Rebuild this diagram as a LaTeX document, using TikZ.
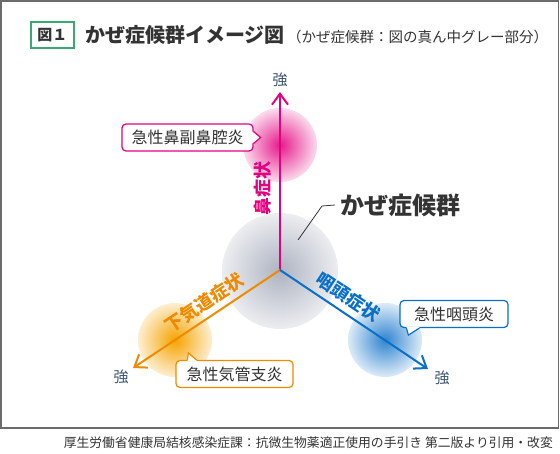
\documentclass[tikz,border=0pt]{standalone}
\usepackage{fontspec}
\setmainfont{Noto Sans CJK JP}
\usetikzlibrary{arrows.meta}
\definecolor{vframe}{HTML}{6b6b6b}
\definecolor{vgreen}{HTML}{3aa870}
\definecolor{vtext}{HTML}{333333}
\definecolor{vslate}{HTML}{3d5670}
\definecolor{vpink}{HTML}{e4007f}
\definecolor{vorange}{HTML}{f08a00}
\definecolor{vamber}{HTML}{f5a300}
\definecolor{vblue}{HTML}{0a6fc8}
\definecolor{vgray}{HTML}{a9afbe}

\begin{document}
\begin{tikzpicture}[x=1pt, y=-1pt,
		axis/.style={line width=2pt, -{Straight Barb[length=11pt, width=16pt]}},
		callout/.style={draw, line width=1.2pt, fill=white, rounded corners=4pt, text=vtext, font=\fontsize{16}{16}\selectfont, minimum height=27pt, inner sep=0pt},
		strong/.style={text=vslate, font=\fontsize{15}{15}\selectfont, inner sep=0pt},
		symptom/.style={font=\fontsize{18}{18}\selectfont\bfseries, inner sep=0pt}]
		\useasboundingbox (0,0) rectangle (560,454);
		\draw[color=vframe, line width=1.5pt] (1,1) rectangle (558.5,428);
		% title
		\node[draw=vgreen, line width=1.2pt, fill=white, minimum width=43pt, minimum height=26pt, inner sep=0pt, text=vtext, font=\fontsize{15}{15}\selectfont\bfseries] (figno) at (52.5,35) {図１};
		\node[anchor=west, text=vtext, font=\fontsize{20}{20}\selectfont\bfseries, inner sep=0pt] (title) at (85,35) {かぜ症候群イメージ図};
		\node[anchor=west, text=vtext, font=\fontsize{14.5}{14.5}\selectfont, inner sep=0pt] (subtitle) at (287,36.5) {（かぜ症候群：図の真ん中グレー部分）};
		% blobs
		\shade[inner color=vgray!95, outer color=vgray!22] (280,271) circle (58);
		\shade[inner color=vpink!90, outer color=vpink!14] (280,145) circle (37);
		\shade[inner color=vamber, outer color=vamber!18] (175,340) circle (37);
		\shade[inner color=vblue!85, outer color=vblue!14] (385,340) circle (37);
		% axes
		\coordinate (O) at (280,270);
		\coordinate (noseend) at (280,92);
		\coordinate (lowerend) at (133,368);
		\coordinate (throatend) at (428,369);
		\draw[axis, color=vpink] (O) -- (noseend);
		\draw[axis, color=vorange] (O) -- (lowerend);
		\draw[axis, color=vblue] (O) -- (throatend);
		\node[strong] (nosestrong) at (280,80) {強};
		\node[strong] (lowerstrong) at (121,377) {強};
		\node[strong] (throatstrong) at (442,378) {強};
		\node[symptom, text=vpink, rotate=90] (noselabel) at (263,189) {鼻症状};
		\node[symptom, text=vorange, rotate=33.7] (lowerlabel) at (204,303) {下気道症状};
		\node[symptom, text=vblue, rotate=-33.7] (throatlabel) at (348,297) {咽頭症状};
		% callouts
		\node[callout, draw=vpink, minimum width=131pt] (sinusitis) at (187.5,137.5) {急性鼻副鼻腔炎};
		\fill[white] ([shift={(-1.5,-6)}]sinusitis.east) -- ++(8.5,6) -- ++(-8.5,6) -- cycle;
		\draw[color=vpink, line width=1.2pt] ([shift={(0,-6)}]sinusitis.east) -- ++(7,6) -- ++(-7,6);
		\node[callout, draw=vorange, minimum width=117pt] (bronchitis) at (234.5,374) {急性気管支炎};
		\fill[white] ([shift={(12,1.5)}]bronchitis.north west) -- ++(1,-8.5) -- ++(9,8.5) -- cycle;
		\draw[color=vorange, line width=1.2pt] ([shift={(12,0)}]bronchitis.north west) -- ++(1,-7) -- ++(8,7);
		\node[callout, draw=vblue, minimum width=108pt] (pharyngitis) at (454,314) {急性咽頭炎};
		\fill[white] ([shift={(7,-1.5)}]pharyngitis.south west) -- ++(2,8.5) -- ++(12,-8.5) -- cycle;
		\draw[color=vblue, line width=1.2pt] ([shift={(7,0)}]pharyngitis.south west) -- ++(2,7) -- ++(11,-7);
		% center label
		\node[anchor=west, text=vtext, font=\fontsize{24}{24}\selectfont\bfseries, inner sep=0pt] (cold) at (340,205) {かぜ症候群};
		\coordinate (coldpt) at (298,240);
		\draw[color=vtext, line width=0.8pt] (coldpt) -- ++(24,-34) -- ([xshift=-5pt]cold.west);
		% source
		\node[anchor=east, text=vtext, font=\fontsize{12.8}{12.8}\selectfont, inner sep=0pt] (source) at (553,443) {厚生労働省健康局結核感染症課：抗微生物薬適正使用の手引き 第二版より引用・改変};
	\end{tikzpicture}
\end{document}
